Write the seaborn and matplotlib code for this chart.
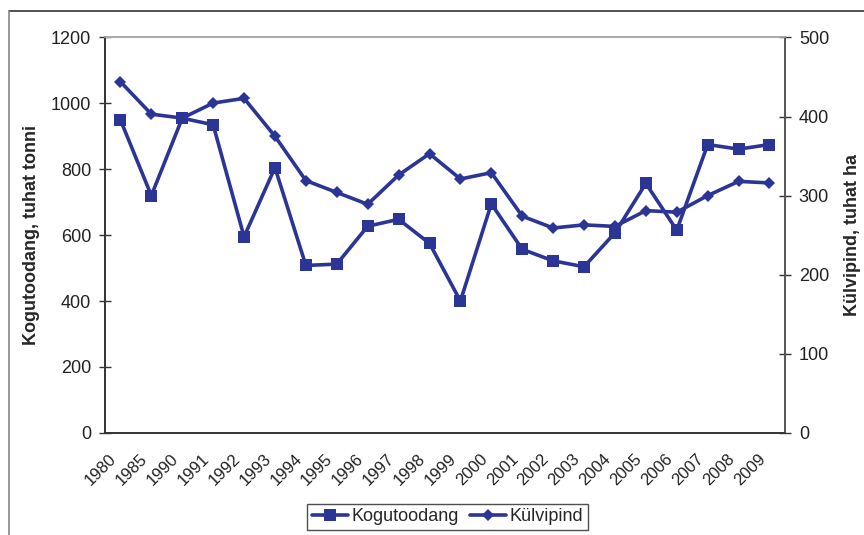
import matplotlib
matplotlib.use("Agg")
import matplotlib.pyplot as plt
from matplotlib.lines import Line2D
import seaborn as sns
import pandas as pd

# Grain harvest and sown area, Estonia
years = ["1980", "1985", "1990", "1991", "1992", "1993", "1994", "1995", "1996",
         "1997", "1998", "1999", "2000", "2001", "2002", "2003", "2004", "2005",
         "2006", "2007", "2008", "2009"]
kogutoodang = [950, 720, 955, 935, 595, 805, 508, 512, 627, 648, 575, 400, 695,
               557, 522, 504, 607, 757, 615, 875, 861, 875]   # thousand tonnes
kulvipind = [444, 403, 398, 417, 423, 375, 319, 304, 289, 326, 353, 321, 329,
             274, 259, 263, 261, 281, 279, 300, 318, 316]     # thousand ha

df = pd.DataFrame({"pos": range(len(years)), "aasta": years,
                   "Kogutoodang": kogutoodang, "Külvipind": kulvipind})

sns.set_theme(style="white")
plt.rcParams["font.family"] = ["Liberation Sans", "DejaVu Sans"]

navy = "#2B3595"
fig = plt.figure(figsize=(8.64, 5.35), dpi=100)
ax = fig.add_axes([0.1215, 0.191, 0.787, 0.739])
ax2 = ax.twinx()

sns.lineplot(data=df, x="pos", y="Kogutoodang", ax=ax, color=navy, lw=2.6,
             marker="s", markersize=9, markeredgewidth=0, legend=False)
sns.lineplot(data=df, x="pos", y="Külvipind", ax=ax2, color=navy, lw=2.6,
             marker="D", markersize=6.5, markeredgewidth=0, legend=False)

n = len(years)
ax.set_xlim(-0.5, n - 0.5)
ax.set_ylim(0, 1200)
ax2.set_ylim(0, 500)
ax.set_yticks(range(0, 1201, 200))
ax2.set_yticks(range(0, 501, 100))

# category boundaries carry the tick marks; the rotated labels end just
# left of each category centre
ax.set_xticks([i - 0.5 for i in range(n + 1)])
ax.set_xticklabels([])
ax.set_xticks([i - 0.38 for i in range(n)], minor=True)
ax.set_xticklabels(years, minor=True, rotation=45, ha="right",
                   rotation_mode="anchor", fontsize=12, color="#222222")
ax.tick_params(axis="x", which="major", direction="inout", length=8,
               width=1, color="#333333")
ax.tick_params(axis="x", which="minor", length=0, pad=13)
ax.tick_params(axis="y", direction="inout", length=8, width=1,
               color="#333333", labelsize=13, labelcolor="#222222", pad=6)
ax2.tick_params(axis="y", direction="inout", length=8, width=1,
                color="#333333", labelsize=13, labelcolor="#222222", pad=6)

for a in (ax, ax2):
    a.set_xlabel("")
    for s in a.spines.values():
        s.set_linewidth(1.2)
    a.spines["top"].set_color("#AAAAAA")
    a.spines["left"].set_color("#333333")
    a.spines["bottom"].set_color("#333333")
    a.spines["right"].set_color("#555555")

ax.set_ylabel("Kogutoodang, tuhat tonni", fontsize=13, fontweight="bold",
              labelpad=8)
ax2.set_ylabel("Külvipind, tuhat ha", fontsize=13, fontweight="bold",
               labelpad=11)

handles = [Line2D([], [], color=navy, lw=2.6, marker="s", markersize=9,
                  markeredgewidth=0),
           Line2D([], [], color=navy, lw=2.6, marker="D", markersize=6.5,
                  markeredgewidth=0)]
leg = fig.legend(handles, ["Kogutoodang", "Külvipind"], loc="center",
                 bbox_to_anchor=(0.518, 0.034), ncol=2, frameon=True,
                 fancybox=False, fontsize=13, handlelength=2.0,
                 handletextpad=0.2, columnspacing=0.6, borderpad=0.25)
leg.get_frame().set_edgecolor("#222222")
leg.get_frame().set_linewidth(1.0)

# outer chart frame
fig.add_artist(Line2D([9 / 864, 1.0], [1 - 10.5 / 535, 1 - 10.5 / 535],
                      color="#333333", lw=1.2, transform=fig.transFigure))
fig.add_artist(Line2D([9 / 864, 9 / 864], [0, 1 - 10.5 / 535],
                      color="#888888", lw=1.2, transform=fig.transFigure))

fig.savefig("out.png", dpi=100)
